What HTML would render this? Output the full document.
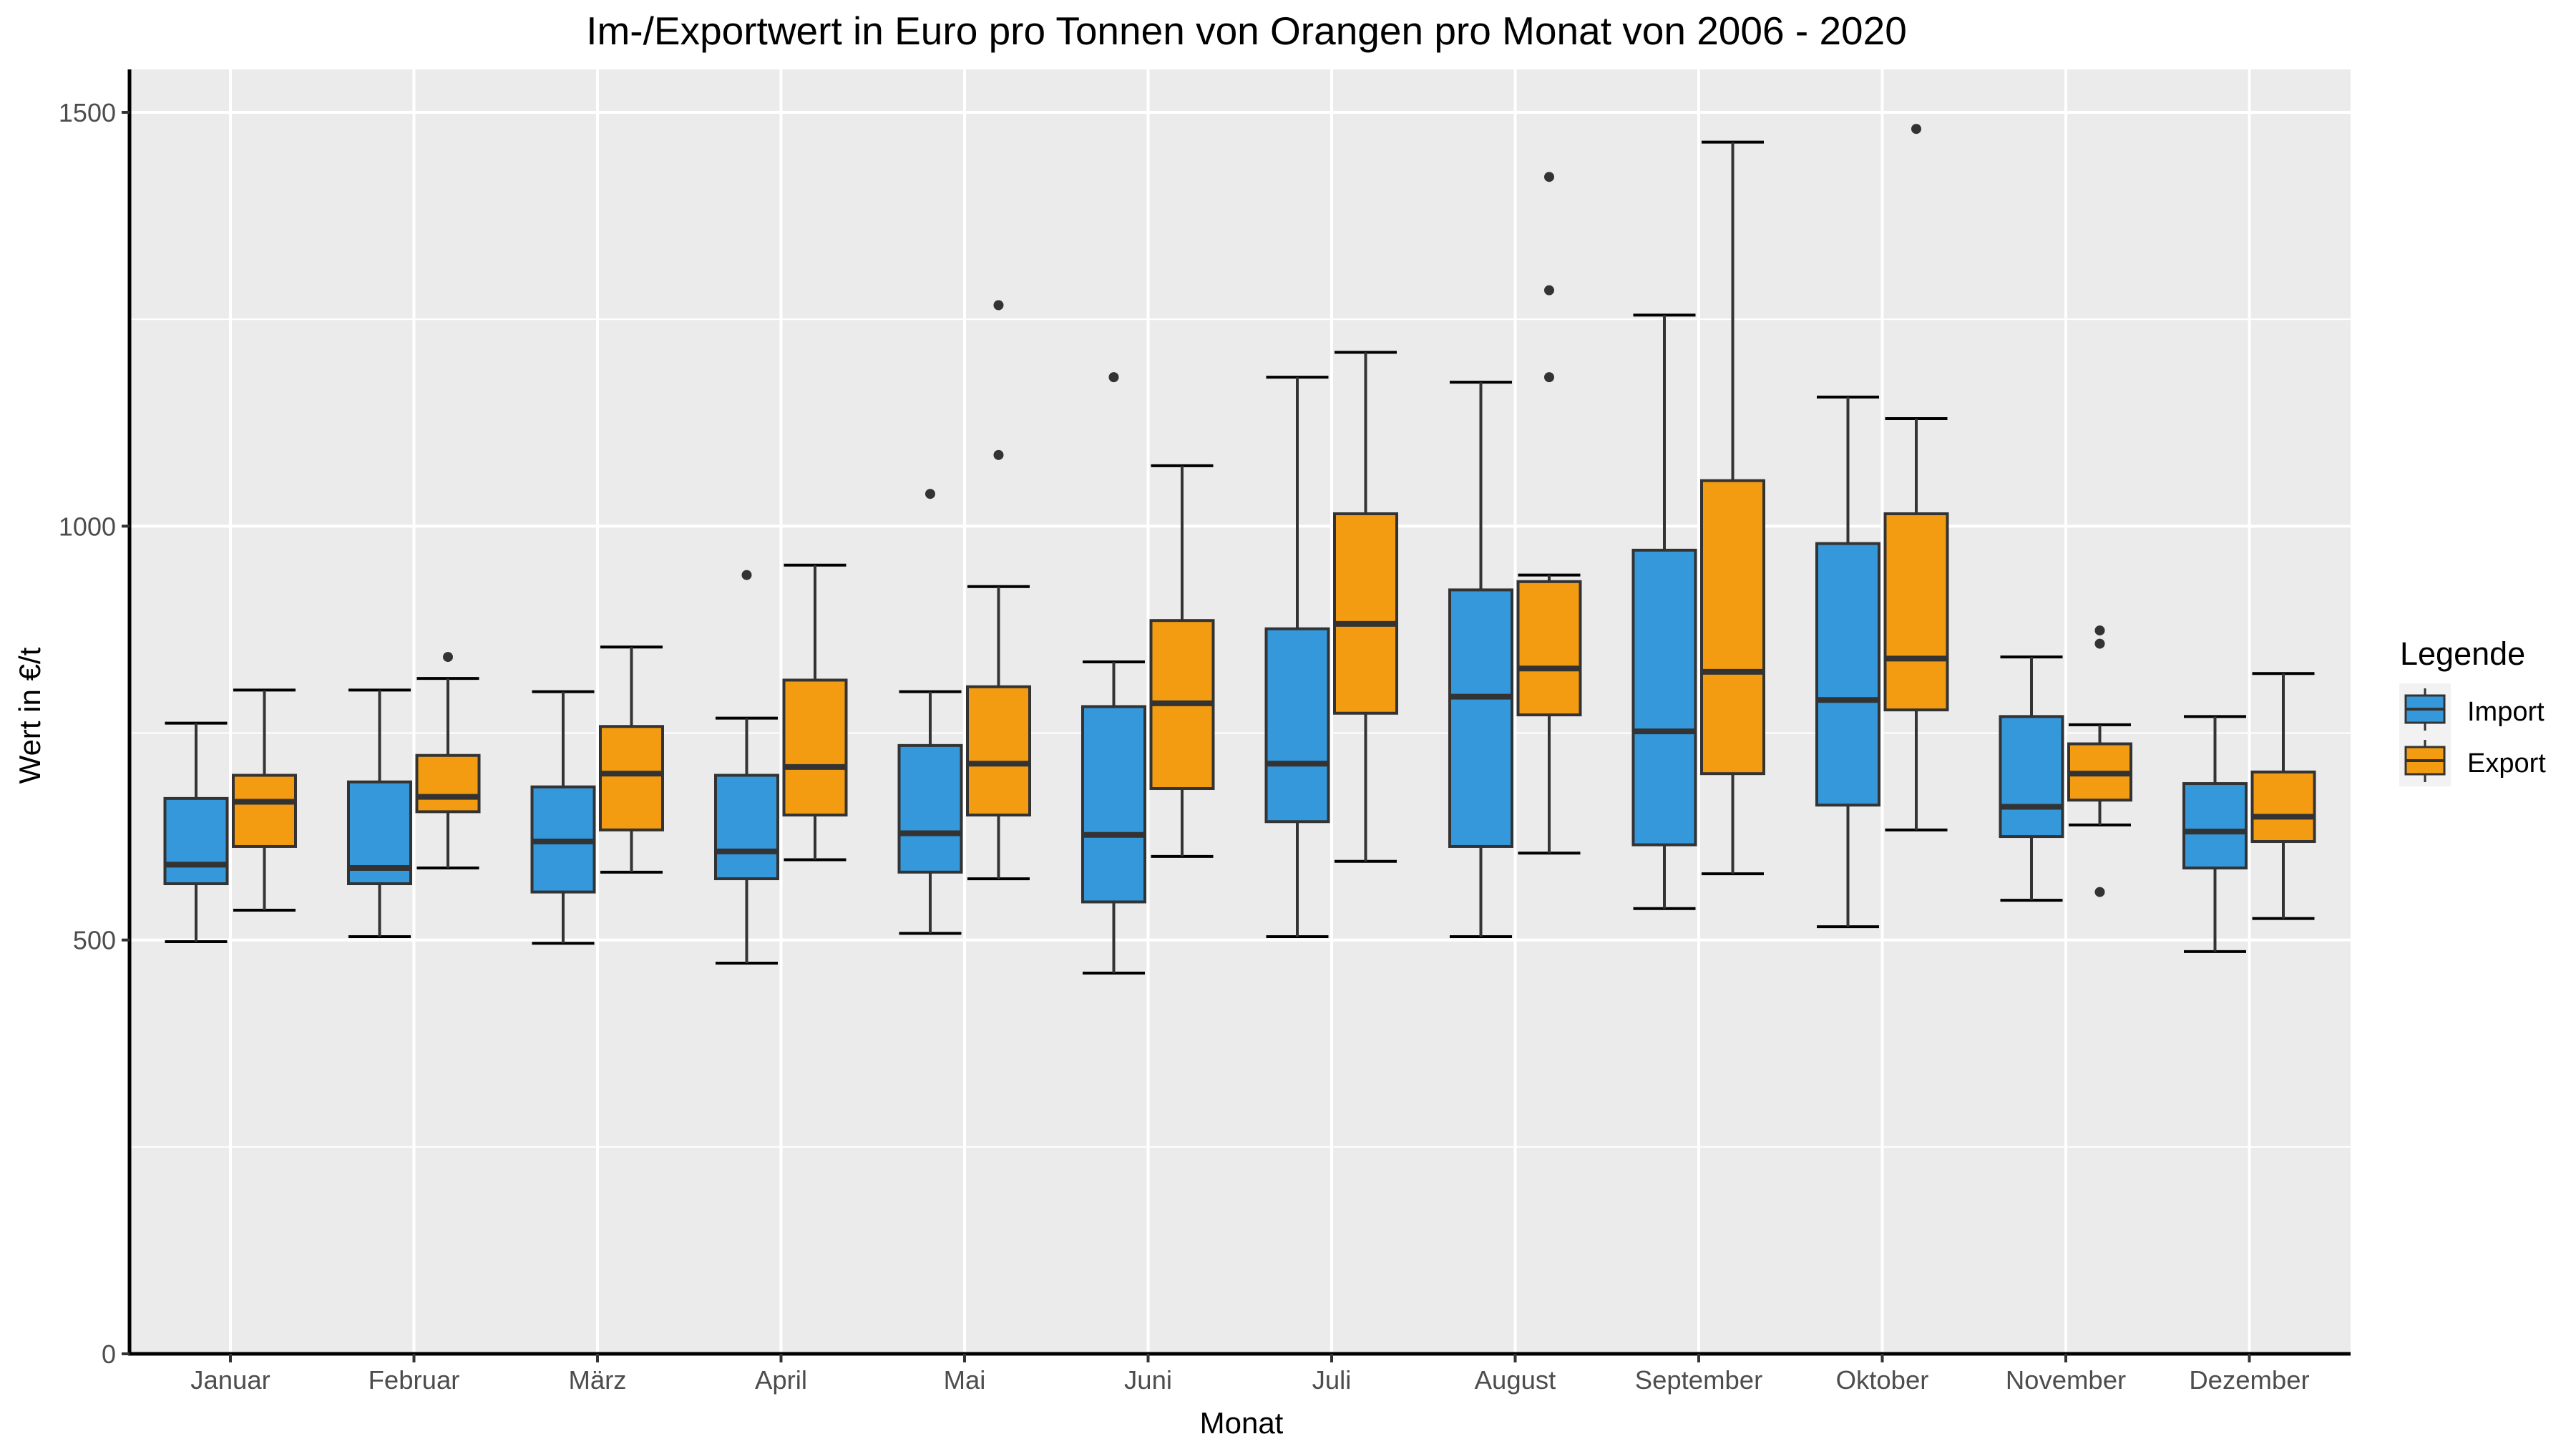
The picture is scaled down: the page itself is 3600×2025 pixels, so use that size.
<!DOCTYPE html>
<html><head><meta charset="utf-8"><style>
html,body{margin:0;padding:0;background:#fff;}
svg{display:block;font-family:"Liberation Sans",Arial,sans-serif;}
</style></head><body>
<svg id="chart" width="3600" height="2025" viewBox="0 0 3600 2025" xmlns="http://www.w3.org/2000/svg">
<rect x="0" y="0" width="3600" height="2025" fill="#fff"/>
<rect x="181" y="97" width="3104" height="1795" fill="#EBEBEB"/>
<g id="grid"></g>
<g id="boxes"></g>
<line x1="181" y1="97" x2="181" y2="1894" stroke="#000" stroke-width="5"/>
<line x1="179" y1="1892" x2="3285" y2="1892" stroke="#000" stroke-width="5"/>
<g id="ticks"></g>
<text x="1742" y="62" font-size="55" text-anchor="middle" fill="#000">Im-/Exportwert in Euro pro Tonnen von Orangen pro Monat von 2006 - 2020</text>
<text x="1735" y="2003" font-size="42" text-anchor="middle" fill="#000">Monat</text>
<text x="0" y="0" font-size="42" text-anchor="middle" fill="#000" transform="translate(56,1000) rotate(-90)">Wert in €/t</text>
<g>
<text x="3354" y="929" font-size="45" fill="#000">Legende</text>
<rect x="3353" y="955" width="72" height="144" fill="#F2F2F2"/>
<g>
<line x1="3389" y1="962" x2="3389" y2="1021" stroke="#333" stroke-width="3"/>
<rect x="3362" y="972" width="54" height="38" fill="#3498DB" stroke="#333" stroke-width="3"/>
<line x1="3362" y1="991" x2="3416" y2="991" stroke="#333" stroke-width="4"/>
<text x="3448" y="1007" font-size="38" fill="#000">Import</text>
</g>
<g>
<line x1="3389" y1="1034" x2="3389" y2="1093" stroke="#333" stroke-width="3"/>
<rect x="3362" y="1044" width="54" height="38" fill="#F39C12" stroke="#333" stroke-width="3"/>
<line x1="3362" y1="1063" x2="3416" y2="1063" stroke="#333" stroke-width="4"/>
<text x="3448" y="1079" font-size="38" fill="#000">Export</text>
</g>
</g>
</svg>
<script>
const months = ["Januar","Februar","März","April","Mai","Juni","Juli","August","September","Oktober","November","Dezember"];
const yTicks = [0,500,1000,1500];
const yMinor = [250,750,1250];
// Import: [low, Q1, median, Q3, high]
const importLow = [498,504,496,472,508,460,504,504,538,516,548,486];
const importQ1  = [568,568,558,574,582,546,643,613,615,663,625,587];
const importMed = [591,587,619,607,629,627,713,794,752,790,661,631];
const importQ3  = [671,691,685,699,735,782,876,923,971,979,770,689];
const importHigh= [762,802,800,768,800,836,1180,1174,1255,1156,842,770];
const importOutliers = [[],[],[],[941],[1039],[1180],[],[],[],[],[],[]];
const exportLow = [536,587,582,597,574,601,595,605,580,633,639,526];
const exportQ1  = [613,655,633,651,651,683,774,772,701,778,669,619];
const exportMed = [667,673,701,709,713,786,882,828,824,840,701,649];
const exportQ3  = [699,723,758,814,806,886,1015,933,1055,1015,737,703];
const exportHigh= [802,816,854,953,927,1073,1210,941,1464,1130,760,822];
const exportOutliers = [[],[842],[],[],[1267,1086],[],[],[1422,1285,1180],[],[1480],[874,858,558],[]];

const NS="http://www.w3.org/2000/svg";
const Y0=1892, PXU=(1892-157)/1500;
function yS(v){return Y0 - v*PXU;}
function xS(i){return 322 + i*256.5;}
function mk(parent,tag,attrs){const e=document.createElementNS(NS,tag);for(const k in attrs)e.setAttribute(k,attrs[k]);parent.appendChild(e);return e;}
const grid=document.getElementById('grid'), boxes=document.getElementById('boxes'), ticks=document.getElementById('ticks');
yMinor.forEach(v=>{const l=mk(grid,'line',{x1:181,x2:3285,y1:yS(v),y2:yS(v),stroke:'#fff','stroke-width':2});

});
yTicks.forEach(v=>{const l=mk(grid,'line',{x1:181,x2:3285,y1:yS(v),y2:yS(v),stroke:'#fff','stroke-width':4});


const t=mk(ticks,'line',{x1:170,x2:181,y1:yS(v),y2:yS(v),stroke:'#333','stroke-width':4});


const tx=mk(ticks,'text',{x:162,y:yS(v)+13,'font-size':36,'text-anchor':'end',fill:'#4D4D4D'});tx.textContent=v;

});
months.forEach((m,i)=>{const x=xS(i);
const l=mk(grid,'line',{x1:x,x2:x,y1:97,y2:1892,stroke:'#fff','stroke-width':4});


const t=mk(ticks,'line',{x1:x,x2:x,y1:1892,y2:1904,stroke:'#333','stroke-width':4});


const tx=mk(ticks,'text',{x:x,y:1941,'font-size':36.5,'text-anchor':'middle',fill:'#4D4D4D'});tx.textContent=m;

});
function drawBox(cx,lo,q1,med,q3,hi,outs,color,name){
 const g=mk(boxes,'g',{});
 
 
 const hw=43.5;
 mk(g,'line',{x1:cx-hw,x2:cx+hw,y1:yS(hi),y2:yS(hi),stroke:'#000','stroke-width':4});
 mk(g,'line',{x1:cx-hw,x2:cx+hw,y1:yS(lo),y2:yS(lo),stroke:'#000','stroke-width':4});
 mk(g,'line',{x1:cx,x2:cx,y1:yS(hi),y2:yS(q3),stroke:'#333','stroke-width':4});
 mk(g,'line',{x1:cx,x2:cx,y1:yS(q1),y2:yS(lo),stroke:'#333','stroke-width':4});
 mk(g,'rect',{x:cx-hw,y:yS(q3),width:2*hw,height:yS(q1)-yS(q3),fill:color,stroke:'#333','stroke-width':4});
 mk(g,'line',{x1:cx-hw,x2:cx+hw,y1:yS(med),y2:yS(med),stroke:'#333','stroke-width':8});
 outs.forEach(o=>{const c=mk(g,'circle',{cx:cx,cy:yS(o),r:7,fill:'#333'});
 
 });
}
months.forEach((m,i)=>{
 drawBox(xS(i)-48,importLow[i],importQ1[i],importMed[i],importQ3[i],importHigh[i],importOutliers[i],'#3498DB','import-box-'+i);
 drawBox(xS(i)+47.5,exportLow[i],exportQ1[i],exportMed[i],exportQ3[i],exportHigh[i],exportOutliers[i],'#F39C12','export-box-'+i);
});
</script>
</body></html>
